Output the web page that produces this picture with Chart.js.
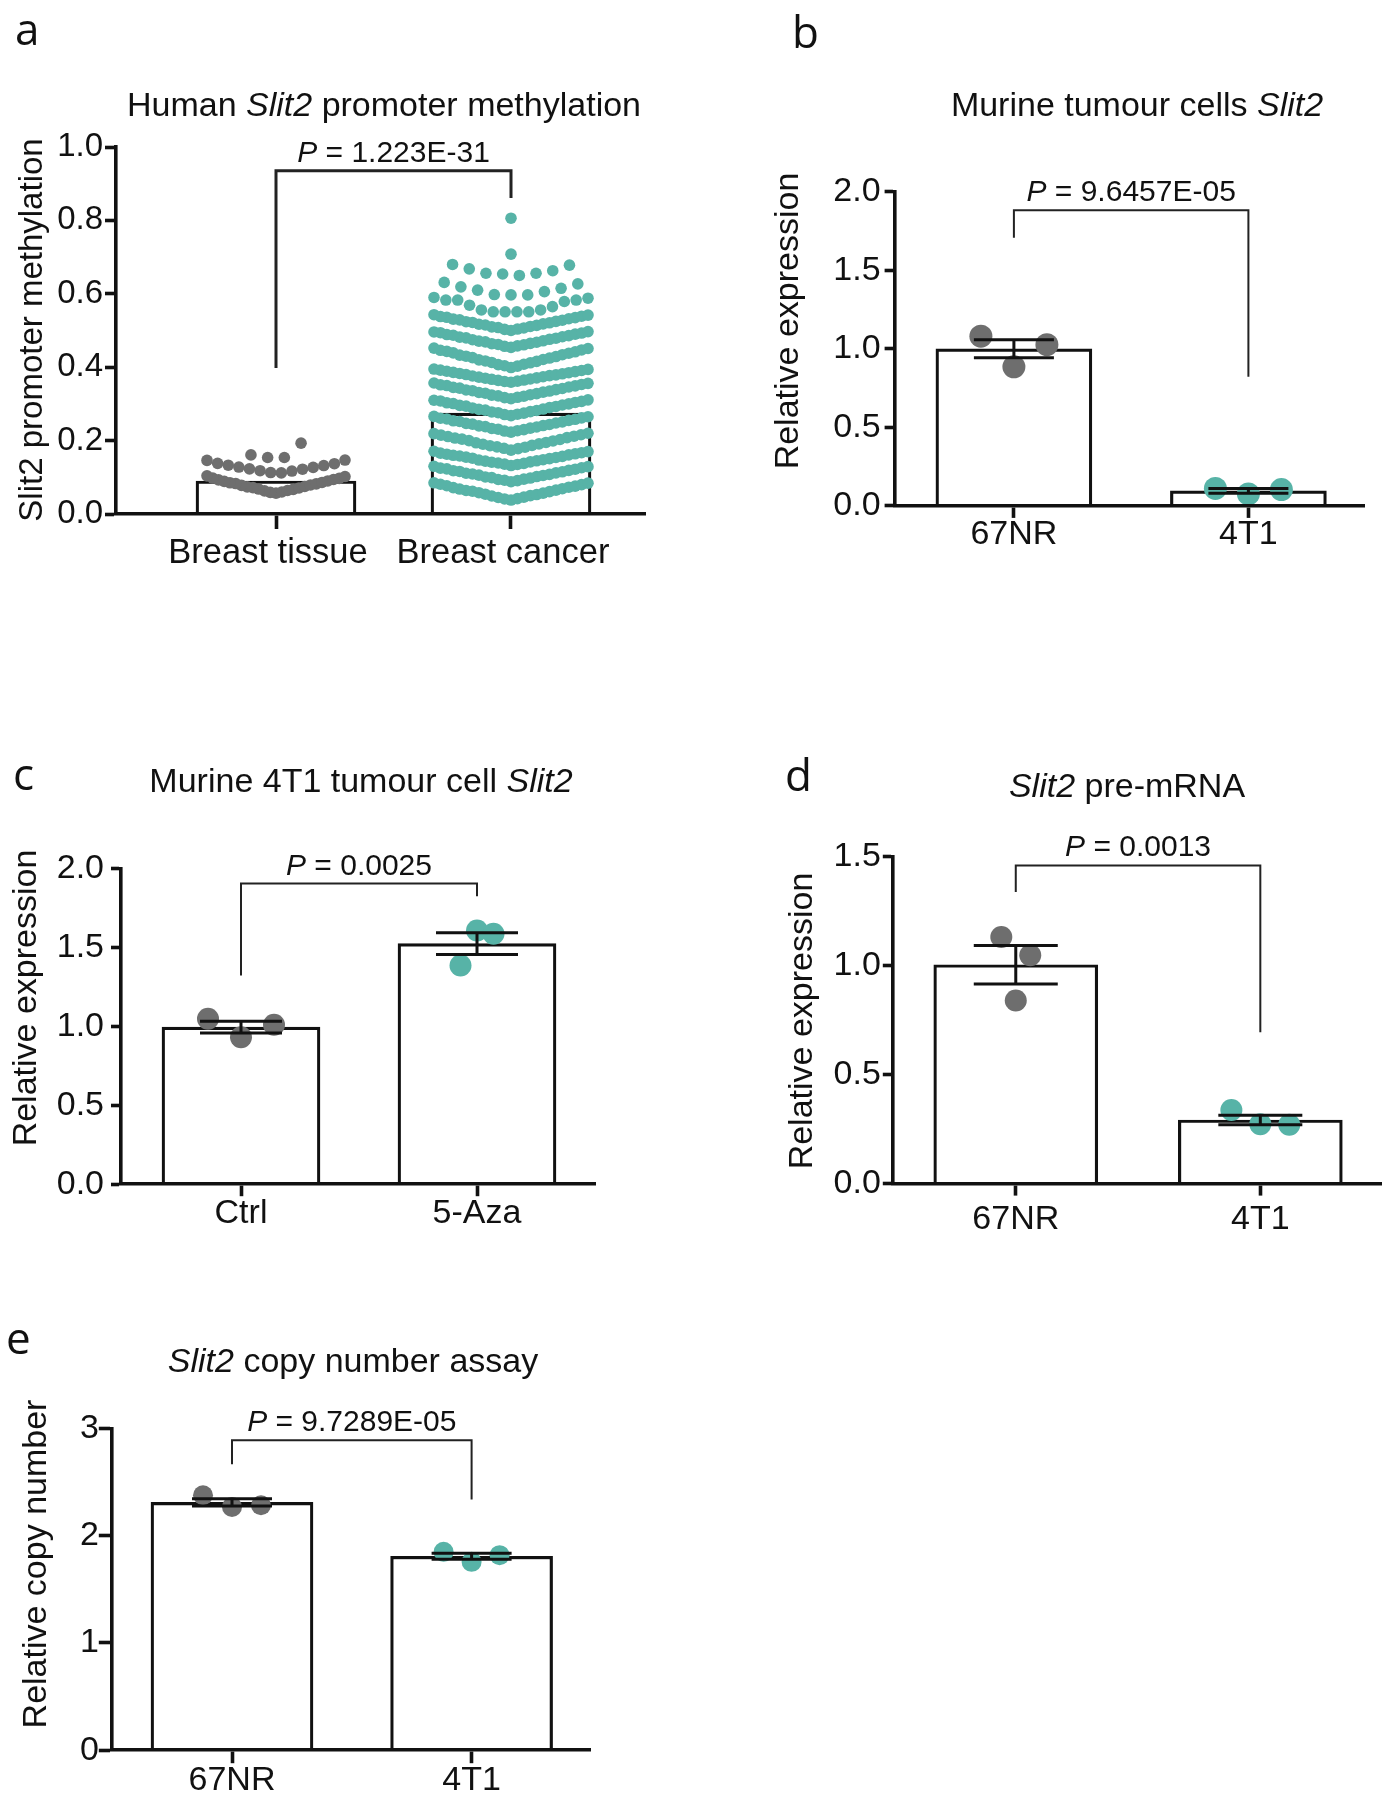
<!DOCTYPE html>
<html>
<head>
<meta charset="utf-8">
<script src="https://cdn.jsdelivr.net/npm/chart.js@4.4.1/dist/chart.umd.min.js"></script>
<style>
  html, body { margin: 0; padding: 0; background: #fff; }
  #page { position: relative; width: 1392px; height: 1800px; overflow: hidden; background: #fff; }
  #page canvas { position: absolute; }
</style>
</head>
<body>
<div id="page">
  <canvas id="chartA"></canvas>
  <canvas id="chartB"></canvas>
  <canvas id="chartC"></canvas>
  <canvas id="chartD"></canvas>
  <canvas id="chartE"></canvas>
</div>
<script>
// ---- data ----
// a: human Slit2 promoter methylation (rows of the Prism scatter, listed centre-out)
const aCategories = ['Breast tissue', 'Breast cancer'];
const aMeans = [0.090, 0.275];
const aYTicks = [0, 0.2, 0.4, 0.6, 0.8, 1.0];
const aTissueRows = [
  [0.057, 0.060, 0.059, 0.064, 0.063, 0.067, 0.068, 0.071, 0.072, 0.075, 0.074, 0.079, 0.078, 0.082, 0.083, 0.086, 0.085, 0.090, 0.089, 0.094, 0.093, 0.097, 0.098, 0.102, 0.104],
  [0.112, 0.113, 0.117, 0.118, 0.122, 0.123, 0.127, 0.128, 0.132, 0.133, 0.137, 0.138, 0.147, 0.146],
  [0.154, 0.154, 0.193, 0.161]
];
const aCancerRows = [
  [0.038, 0.042, 0.041, 0.046, 0.045, 0.050, 0.049, 0.053, 0.054, 0.057, 0.058, 0.061, 0.062, 0.065, 0.064, 0.069, 0.068, 0.073, 0.072, 0.076, 0.077, 0.080, 0.081, 0.084, 0.085],
  [0.088, 0.091, 0.092, 0.095, 0.094, 0.098, 0.099, 0.102, 0.101, 0.105, 0.106, 0.108, 0.109, 0.112, 0.111, 0.115, 0.116, 0.119, 0.118, 0.122, 0.123, 0.126, 0.125, 0.129, 0.130],
  [0.132, 0.135, 0.136, 0.138, 0.139, 0.142, 0.141, 0.145, 0.144, 0.148, 0.147, 0.151, 0.152, 0.154, 0.155, 0.157, 0.158, 0.161, 0.160, 0.164, 0.163, 0.167, 0.166, 0.170, 0.171],
  [0.174, 0.178, 0.179, 0.182, 0.183, 0.187, 0.186, 0.191, 0.190, 0.195, 0.194, 0.199, 0.200, 0.203, 0.204, 0.208, 0.207, 0.212, 0.211, 0.216, 0.215, 0.220, 0.219],
  [0.223, 0.227, 0.226, 0.230, 0.231, 0.234, 0.233, 0.237, 0.238, 0.241, 0.240, 0.244, 0.245, 0.248, 0.247, 0.251, 0.252, 0.255, 0.254, 0.258, 0.259, 0.262, 0.261, 0.265, 0.266],
  [0.268, 0.272, 0.271, 0.275, 0.276, 0.279, 0.278, 0.282, 0.283, 0.286, 0.285, 0.290, 0.289, 0.293, 0.294, 0.297, 0.296, 0.300, 0.301, 0.304, 0.303, 0.307, 0.308, 0.311, 0.310],
  [0.314, 0.318, 0.317, 0.321, 0.322, 0.325, 0.324, 0.328, 0.329, 0.332, 0.331, 0.335, 0.336, 0.339, 0.338, 0.342, 0.343, 0.346, 0.345, 0.349, 0.350, 0.353, 0.352, 0.356, 0.357],
  [0.359, 0.362, 0.361, 0.365, 0.364, 0.368, 0.367, 0.371, 0.370, 0.374, 0.373, 0.377, 0.376, 0.379, 0.380, 0.382, 0.383, 0.385, 0.386, 0.388, 0.389, 0.391, 0.392, 0.394, 0.395],
  [0.399, 0.403, 0.404, 0.408, 0.407, 0.412, 0.413, 0.416, 0.417, 0.421, 0.420, 0.425, 0.426, 0.429, 0.430, 0.434, 0.433, 0.438, 0.439, 0.442, 0.443, 0.447, 0.446, 0.451, 0.452],
  [0.454, 0.458, 0.457, 0.461, 0.462, 0.465, 0.464, 0.468, 0.469, 0.472, 0.471, 0.476, 0.475, 0.479, 0.480, 0.483, 0.482, 0.486, 0.487, 0.490, 0.489, 0.493, 0.494, 0.497, 0.496],
  [0.500, 0.504, 0.503, 0.507, 0.508, 0.511, 0.510, 0.514, 0.515, 0.518, 0.517, 0.521, 0.522, 0.525, 0.524, 0.528, 0.529, 0.532, 0.531, 0.535, 0.536, 0.539, 0.538, 0.542, 0.543],
  [0.551, 0.551, 0.551, 0.551, 0.556, 0.556, 0.565, 0.569, 0.579, 0.583, 0.583, 0.583, 0.588, 0.590],
  [0.597, 0.597, 0.598, 0.606, 0.610, 0.615, 0.619, 0.627, 0.631],
  [0.650, 0.654, 0.656, 0.656, 0.663, 0.668, 0.678, 0.680],
  [0.708],
  [0.806]
];

// b: murine tumour cells Slit2 (points listed centre, right, left)
const bCategories = ['67NR', '4T1'];
const bMeans = [1.00, 0.096];
const bSem = [0.057, 0.015];
const bPoints = [[0.885, 1.026, 1.080], [0.076, 0.104, 0.111]];
const bYTicks = [0, 0.5, 1.0, 1.5, 2.0];

// c: murine 4T1 tumour cell Slit2
const cCategories = ['Ctrl', '5-Aza'];
const cMeans = [0.995, 1.525];
const cSem = [0.037, 0.069];
const cPoints = [[0.931, 1.011, 1.048], [1.608, 1.587, 1.386]];
const cYTicks = [0, 0.5, 1.0, 1.5, 2.0];

// d: Slit2 pre-mRNA
const dCategories = ['67NR', '4T1'];
const dMeans = [1.005, 0.292];
const dSem = [0.088, 0.022];
const dPoints = [[0.841, 1.048, 1.132], [0.273, 0.270, 0.338]];
const dYTicks = [0, 0.5, 1.0, 1.5];

// e: Slit2 copy number assay
const eCategories = ['67NR', '4T1'];
const eMeans = [2.310, 1.808];
const eSem = [0.034, 0.027];
const ePoints = [[2.268, 2.284, 2.377], [1.756, 1.818, 1.849]];
const eYTicks = [0, 1, 2, 3];

// significance brackets: [left leg bottom, top, right leg bottom] in data units
const aBracket = [0.398, 0.935, 0.861];
const bBracket = [1.707, 1.882, 0.822];
const cBracket = [1.323, 1.905, 1.824];
const dBracket = [1.339, 1.461, 0.695];
const eBracket = [2.666, 2.890, 2.337];
const pValues = ['1.223E-31', '9.6457E-05', '0.0025', '0.0013', '9.7289E-05'];

// ---- style ----
const TEAL = '#57b3a7';
const GREY = '#6e6e6e';
const INK = '#111111';
const FONT = "'Liberation Sans', Arial, Helvetica, sans-serif";
const LETTER_FONT = "'Open Sans', 'Noto Sans', sans-serif";

Chart.defaults.font.family = FONT;
Chart.defaults.color = INK;

// place points of each row centre-out: centre, right, left, right, left ...
function swarm(rows, cat, halfPx, gapPx, unitPx) {
  const pts = [];
  rows.forEach(row => {
    const n = row.length;
    const s = n > 1 ? Math.min(gapPx, 2 * halfPx / (n - 1)) : 0;
    row.forEach((v, k) => {
      let slot;
      if (n % 2 === 1) slot = k === 0 ? 0 : (k % 2 === 1 ? (k + 1) / 2 : -k / 2);
      else slot = (k % 2 === 0 ? 1 : -1) * (Math.floor(k / 2) + 0.5);
      pts.push({ x: cat + slot * s / unitPx, y: v });
    });
  });
  return pts;
}

function drawSegs(ctx, segs, cx, baseline, size) {
  const widths = segs.map(s => {
    ctx.font = (s[1] ? 'italic ' : '') + size + 'px ' + FONT;
    return ctx.measureText(s[0]).width;
  });
  const total = widths.reduce((a, b) => a + b, 0);
  let x = cx - total / 2;
  ctx.textAlign = 'left';
  ctx.textBaseline = 'alphabetic';
  segs.forEach((s, k) => {
    ctx.font = (s[1] ? 'italic ' : '') + size + 'px ' + FONT;
    ctx.fillText(s[0], x, baseline);
    x += widths[k];
  });
}

function decor(p) {
  return {
    id: 'decor',
    afterDatasetsDraw(chart) {
      if (!p.sems) return;
      const { ctx, scales: { x, y } } = chart;
      ctx.save();
      ctx.strokeStyle = INK;
      ctx.lineWidth = 3;
      p.means.forEach((m, i) => {
        const cx = x.getPixelForValue(i);
        const hi = y.getPixelForValue(m + p.sems[i]);
        const lo = y.getPixelForValue(m - p.sems[i]);
        ctx.beginPath();
        ctx.moveTo(cx, hi); ctx.lineTo(cx, lo);
        ctx.moveTo(cx - p.cap, hi); ctx.lineTo(cx + p.cap, hi);
        ctx.moveTo(cx - p.cap, lo); ctx.lineTo(cx + p.cap, lo);
        ctx.stroke();
      });
      ctx.restore();
    },
    afterDraw(chart) {
      const { ctx, scales: { x, y } } = chart;
      const ox = p.box.x, oy = p.box.y;
      ctx.save();
      ctx.fillStyle = INK;
      // panel letter
      ctx.font = '44px ' + LETTER_FONT;
      ctx.textAlign = 'left';
      ctx.textBaseline = 'alphabetic';
      ctx.fillText(p.letter[0], p.letter[1] - ox, p.letter[2] - oy);
      // title
      drawSegs(ctx, p.title, p.titlePos[0] - ox, p.titlePos[1] - oy, 34);
      // y axis title
      ctx.save();
      ctx.translate(p.yTitle[1] - ox, p.yTitle[2] - oy);
      ctx.rotate(-Math.PI / 2);
      ctx.font = p.fs + 'px ' + FONT;
      ctx.textAlign = 'center';
      ctx.textBaseline = 'middle';
      ctx.fillText(p.yTitle[0], 0, 0);
      ctx.restore();
      // bracket
      const xl = x.getPixelForValue(0), xr = x.getPixelForValue(1);
      const yTop = y.getPixelForValue(p.bracket[1]);
      ctx.strokeStyle = '#222';
      ctx.lineWidth = p.bw;
      ctx.beginPath();
      ctx.moveTo(xl, y.getPixelForValue(p.bracket[0]));
      ctx.lineTo(xl, yTop);
      ctx.lineTo(xr, yTop);
      ctx.lineTo(xr, y.getPixelForValue(p.bracket[2]));
      ctx.stroke();
      drawSegs(ctx, [['P', true], [' = ' + p.pval, false]], (xl + xr) / 2, yTop - 9, 30);
      ctx.restore();
    }
  };
}

function makePanel(p) {
  const cv = document.getElementById(p.id);
  cv.width = p.box.w;
  cv.height = p.box.h;
  cv.style.left = p.box.x + 'px';
  cv.style.top = p.box.y + 'px';
  const L = p.area.l - p.box.x, T = p.area.t - p.box.y;
  const R = p.area.r - p.box.x, B = p.area.b - p.box.y;
  const unit = p.c1 - p.c0;
  const xMin = (p.area.l - p.c0) / unit;
  const xMax = 1 + (p.area.r - p.c1) / unit;
  // room under the axis for the category labels (labels are clipped to this box)
  const xH = Math.min(75, p.box.h - B);

  const datasets = p.groups.map((g, i) => ({
    type: 'scatter',
    data: swarm(g.rows, i, g.half, g.gap, unit),
    backgroundColor: g.color,
    pointRadius: g.r,
    pointHoverRadius: g.r,
    pointBorderWidth: 0,
    order: 0
  }));
  datasets.push({
    type: 'bar',
    data: p.means.map((m, i) => ({ x: i, y: m })),
    backgroundColor: '#ffffff',
    borderColor: INK,
    borderWidth: 3.2,
    borderSkipped: 'start',
    barThickness: p.barW,
    order: 1
  });

  new Chart(cv, {
    type: 'bar',
    data: { datasets },
    options: {
      responsive: false,
      animation: false,
      devicePixelRatio: 1,
      events: [],
      layout: { padding: { left: 0, top: T, right: p.box.w - R, bottom: p.box.h - B - xH } },
      plugins: { legend: { display: false }, tooltip: { enabled: false } },
      scales: {
        x: {
          type: 'linear', min: xMin, max: xMax, offset: false, bounds: 'data',
          afterFit: s => { s.height = xH; },
          afterBuildTicks: s => { s.ticks = p.cats.map((c, i) => ({ value: i })); },
          ticks: {
            callback: v => p.cats[v] || '',
            font: { family: FONT, size: p.xfs || p.fs, lineHeight: 1 },
            color: INK, padding: p.xPad, labelOffset: p.xShift || 0,
            autoSkip: false, maxRotation: 0, minRotation: 0
          },
          grid: { drawOnChartArea: false, drawTicks: true, tickLength: p.xTick, tickWidth: 3.6, tickColor: INK, offset: false },
          border: { display: true, width: 3.6, color: INK, z: 1 }
        },
        y: {
          type: 'linear', min: 0, max: p.yTicks[p.yTicks.length - 1], bounds: 'data',
          afterFit: s => { s.width = L; },
          afterBuildTicks: s => { s.ticks = p.yTicks.map(v => ({ value: v })); },
          ticks: {
            callback: v => p.yFmt(v),
            font: { family: FONT, size: p.fs, lineHeight: 1 },
            color: INK, padding: p.yPad, autoSkip: false
          },
          grid: { drawOnChartArea: false, drawTicks: true, tickLength: p.yTick, tickWidth: 3.6, tickColor: INK },
          border: { display: true, width: 3.6, color: INK, z: 1 }
        }
      }
    },
    plugins: [decor(p)]
  });
}

const dec1 = v => Number(v).toFixed(1);
const dec0 = v => String(Math.round(v));

makePanel({
  id: 'chartA', box: { x: 0, y: 0, w: 696, h: 600 },
  area: { l: 116, t: 147, r: 645, b: 514 }, c0: 276, c1: 511,
  cats: aCategories, means: aMeans, yTicks: aYTicks, yFmt: dec1,
  fs: 33, xfs: 34.5, xShift: -8, xTick: 15, xPad: 7, yTick: 11, yPad: 2, barW: 160,
  groups: [
    { rows: aTissueRows, color: GREY, r: 5.8, half: 69, gap: 16.7 },
    { rows: aCancerRows, color: TEAL, r: 5.8, half: 77, gap: 16.7 }
  ],
  letter: ['a', 15, 45], title: [['Human ', false], ['Slit2', true], [' promoter methylation', false]],
  titlePos: [384, 116], yTitle: ['Slit2 promoter methylation', 33, 330],
  bracket: aBracket, bw: 3, pval: pValues[0]
});

makePanel({
  id: 'chartB', box: { x: 696, y: 0, w: 696, h: 600 },
  area: { l: 894.6, t: 191.7, r: 1364.5, b: 505.9 }, c0: 1013.9, c1: 1248.4,
  cats: bCategories, means: bMeans, sems: bSem, cap: 40, yTicks: bYTicks, yFmt: dec1,
  fs: 34, xTick: 12, xPad: 0, yTick: 10, yPad: 4, barW: 156,
  groups: [
    { rows: [bPoints[0]], color: GREY, r: 11.5, half: 1000, gap: 33 },
    { rows: [bPoints[1]], color: TEAL, r: 11.5, half: 1000, gap: 33 }
  ],
  letter: ['b', 792, 48], title: [['Murine tumour cells ', false], ['Slit2', true]],
  titlePos: [1137, 116], yTitle: ['Relative expression', 789, 321],
  bracket: bBracket, bw: 2, pval: pValues[1]
});

makePanel({
  id: 'chartC', box: { x: 0, y: 690, w: 696, h: 570 },
  area: { l: 121, t: 868.6, r: 595, b: 1184.2 }, c0: 241, c1: 477,
  cats: cCategories, means: cMeans, sems: cSem, cap: 41, yTicks: cYTicks, yFmt: dec1,
  fs: 34, xTick: 12, xPad: 0, yTick: 10, yPad: 7, barW: 158,
  groups: [
    { rows: [cPoints[0]], color: GREY, r: 11, half: 1000, gap: 33 },
    { rows: [cPoints[1]], color: TEAL, r: 11, half: 1000, gap: 16.5 }
  ],
  letter: ['c', 13, 790], title: [['Murine 4T1 tumour cell ', false], ['Slit2', true]],
  titlePos: [361, 792], yTitle: ['Relative expression', 27, 998],
  bracket: cBracket, bw: 2, pval: pValues[2]
});

makePanel({
  id: 'chartD', box: { x: 696, y: 690, w: 696, h: 570 },
  area: { l: 892.8, t: 856.9, r: 1381.9, b: 1183.6 }, c0: 1016, c1: 1261,
  cats: dCategories, means: dMeans, sems: dSem, cap: 42, yTicks: dYTicks, yFmt: dec1,
  fs: 34, xTick: 12, xPad: 7, yTick: 10, yPad: 2, barW: 164,
  groups: [
    { rows: [dPoints[0]], color: GREY, r: 11, half: 1000, gap: 14.5 },
    { rows: [dPoints[1]], color: TEAL, r: 11, half: 1000, gap: 29 }
  ],
  letter: ['d', 785, 791], title: [['Slit2', true], [' pre-mRNA', false]],
  titlePos: [1127, 797], yTitle: ['Relative expression', 803, 1021],
  bracket: dBracket, bw: 2, pval: pValues[3]
});

makePanel({
  id: 'chartE', box: { x: 0, y: 1270, w: 696, h: 530 },
  area: { l: 111.8, t: 1428.4, r: 590.5, b: 1750.2 }, c0: 232, c1: 471.6,
  cats: eCategories, means: eMeans, sems: eSem, cap: 40, yTicks: eYTicks, yFmt: dec0,
  fs: 34, xTick: 13, xPad: 0, yTick: 13, yPad: 0, barW: 162,
  groups: [
    { rows: [ePoints[0]], color: GREY, r: 10, half: 1000, gap: 29 },
    { rows: [ePoints[1]], color: TEAL, r: 10, half: 1000, gap: 28 }
  ],
  letter: ['e', 6, 1354], title: [['Slit2', true], [' copy number assay', false]],
  titlePos: [353, 1372], yTitle: ['Relative copy number', 36.5, 1564],
  bracket: eBracket, bw: 2, pval: pValues[4]
});
</script>
</body>
</html>
